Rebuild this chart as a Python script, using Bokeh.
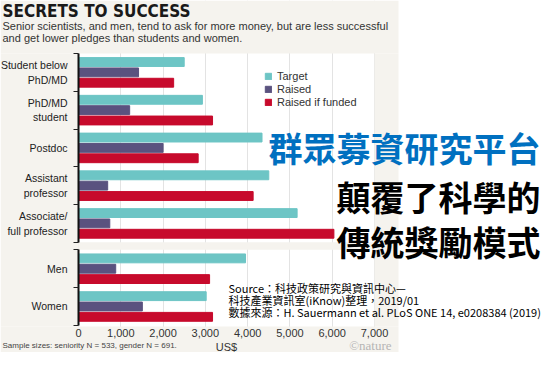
from bokeh.plotting import figure
from bokeh.models import (Range1d, FixedTicker, Label, BoxAnnotation, Legend, LegendItem,
                          LinearAxis, ColumnDataSource)
from bokeh.transform import dodge
from bokeh.embed import file_html
from bokeh.resources import INLINE

categories = ["Student below\nPhD/MD", "PhD/MD\nstudent", "Postdoc", "Assistant\nprofessor",
              "Associate/\nfull professor", "Men", "Women"]
sections = ["seniority", "seniority", "seniority", "seniority", "seniority", "gender", "gender"]
target = [2500, 2930, 4340, 4500, 5170, 3950, 3020]
raised = [1420, 1210, 2000, 690, 740, 880, 1510]
raised_if_funded = [2250, 3170, 2830, 4130, 6040, 3100, 3170]
x_ticks = [0, 1000, 2000, 3000, 4000, 5000, 6000, 7000]
series_labels = ["Target", "Raised", "Raised if funded"]

# layout (canvas pixels, from top-left)
W, H = 542, 352
FL, FR, FT, FB = 78, 374, 53, 326   # plot-area box
PANEL_R = 398                         # right edge of the beige chart panel
BEIGE = "#f5f3ee"
GAP = 0.2
XMAX = 7000

# group centres from order + section gap
centers = []
for i, s in enumerate(sections):
    centers.append(i + 0.5 + (GAP if s == "gender" else 0.0))
n_sen = sections.count("seniority")
n_gen = sections.count("gender")
sen_bounds = [float(i) for i in range(n_sen + 1)]
gen_bounds = [n_sen + GAP + k for k in range(n_gen + 1)]
ymax = gen_bounds[-1] + 0.03

# data ranges such that the plot area lands on the box above, frame = whole canvas
xpp = XMAX / (FR - FL)
ypp = ymax / (FB - FT)
x_range = Range1d(-FL * xpp, XMAX + (W - FR) * xpp)
y_range = Range1d(ymax + (H - FB) * ypp, -FT * ypp)

src = ColumnDataSource(dict(y=centers, target=target, raised=raised, rif=raised_if_funded))

p = figure(width=W, height=H, output_backend="svg", toolbar_location=None,
           x_range=x_range, y_range=y_range, x_axis_location=None, y_axis_location=None,
           min_border=0)
p.title.visible = False
p.border_fill_color = "white"
p.background_fill_color = "white"
p.outline_line_color = None

p.xgrid.ticker = FixedTicker(ticks=x_ticks)
p.xgrid.grid_line_color = "#e3e3e3"
p.ygrid.grid_line_color = None

# beige chart panel around the white plot area (drawn above the grid, under the bars)
def box(**kw):
    p.add_layout(BoxAnnotation(fill_color=BEIGE, fill_alpha=1, line_color=None,
                               level="underlay", **kw))

box(left=0, right=PANEL_R, top=H, bottom=0.0, left_units="screen", right_units="screen",
    top_units="screen")
box(left=0, right=PANEL_R, top=ymax, bottom=0, left_units="screen", right_units="screen",
    bottom_units="screen")
box(left=0, right=0.0, top=0.0, bottom=ymax, left_units="screen")
box(left=XMAX, right=PANEL_R, top=0.0, bottom=ymax, right_units="screen")
box(left=0.0, right=XMAX, top=sen_bounds[-1], bottom=gen_bounds[0])

bh = 0.235
r1 = p.hbar(y=dodge("y", -0.274, range=p.y_range), right="target", height=bh, source=src,
            color="#6dc5c5")
r2 = p.hbar(y="y", right="raised", height=bh, source=src, color="#5a527f")
r3 = p.hbar(y=dodge("y", 0.274, range=p.y_range), right="rif", height=bh, source=src,
            color="#c70a2c")

# x axis
xa = LinearAxis(fixed_location=ymax, bounds=(0, XMAX), ticker=FixedTicker(ticks=x_ticks))
xa.major_label_overrides = {t: f"{t:,}" for t in x_ticks}
xa.axis_line_color = None
xa.major_tick_line_color = None
xa.minor_tick_line_color = None
xa.major_tick_out = 0
xa.major_tick_in = 0
xa.major_label_text_font = "Liberation Sans"
xa.major_label_text_font_size = "11px"
xa.major_label_text_color = "#333333"
xa.major_label_standoff = 2
xa.axis_label = "US$"
xa.axis_label_text_font = "Liberation Sans"
xa.axis_label_text_font_size = "11px"
xa.axis_label_text_font_style = "normal"
xa.axis_label_text_color = "#333333"
xa.axis_label_standoff = 1
p.add_layout(xa, "below")

# y axes, one per section (broken axis line)
def yaxis(lo, hi):
    ticks = [c for c in centers if lo < c < hi]
    minors = [b for b in sen_bounds + gen_bounds if lo <= b <= hi]
    ya = LinearAxis(fixed_location=0, bounds=(lo, hi),
                    ticker=FixedTicker(ticks=ticks, minor_ticks=minors))
    ya.major_label_overrides = {c: lab for c, lab in zip(centers, categories) if c in ticks}
    ya.major_tick_out = 0
    ya.major_tick_in = 0
    ya.major_tick_line_color = None
    ya.minor_tick_out = 5
    ya.minor_tick_in = 0
    ya.minor_tick_line_color = "#222222"
    ya.axis_line_color = "#111111"
    ya.axis_line_width = 2
    ya.major_label_text_font = "Liberation Sans"
    ya.major_label_text_font_size = "10.5px"
    ya.major_label_text_color = "#222222"
    ya.major_label_standoff = 6
    p.add_layout(ya, "left")

yaxis(sen_bounds[0], sen_bounds[-1])
yaxis(gen_bounds[0], gen_bounds[-1])

legend = Legend(items=[LegendItem(label=series_labels[0], renderers=[r1]),
                       LegendItem(label=series_labels[1], renderers=[r2]),
                       LegendItem(label=series_labels[2], renderers=[r3])],
                location=(264, H - 108), orientation="vertical")
legend.glyph_width = 8
legend.glyph_height = 8
legend.label_height = 12
legend.spacing = 1
legend.padding = 0
legend.margin = 0
legend.label_standoff = 5
legend.label_text_font = "Liberation Sans"
legend.label_text_font_size = "11px"
legend.label_text_color = "#333333"
legend.background_fill_alpha = 0
legend.border_line_color = None
p.add_layout(legend)

def lab(text, x, y, size, color="#222222", font="Liberation Sans", style="normal",
        align="left", base="top"):
    p.add_layout(Label(x=x, y=H - y, x_units="screen", y_units="screen", text=text,
                       text_font=font, text_font_size=size, text_color=color,
                       text_font_style=style, text_align=align, text_baseline=base))

lab("SECRETS TO SUCCESS", 2, 0, "17px", "#1a1a1a",
    "'Liberation Sans Narrow', 'DejaVu Sans Condensed', 'Liberation Sans'", "bold")
lab("Senior scientists, and men, tend to ask for more money, but are less successful", 2, 19, "11px", "#333333")
lab("and get lower pledges than students and women.", 2, 31, "11px", "#333333")
lab("Sample sizes: seniority N = 533, gender N = 691.", 2, 345, "8px", "#444444",
    base="middle")
lab("\u00a9nature", 391, 345, "13px", "#b5b5b5", "'Liberation Serif', serif", align="right",
    base="middle")

cjk = "'Noto Sans CJK TC', 'Noto Sans CJK SC', sans-serif"
lab("群眾募資研究平台", 540, 147, "34px", "#0070c0", cjk, "bold", align="right", base="middle")
lab("顛覆了科學的", 540, 196, "34px", "#000000", cjk, "bold", align="right", base="middle")
lab("傳統獎勵模式", 540, 241, "34px", "#000000", cjk, "bold", align="right", base="middle")
lab("Source：科技政策研究與資訊中心—", 228, 287, "11px", "#000000", cjk, base="middle")
lab("科技產業資訊室(iKnow)整理，2019/01", 228, 299, "11px", "#000000", cjk, base="middle")
lab("數據來源：H. Sauermann et al. PLoS ONE 14, e0208384 (2019)", 228, 311, "11px", "#000000",
    cjk, base="middle")

open("out.html", "w").write(file_html(p, INLINE))
